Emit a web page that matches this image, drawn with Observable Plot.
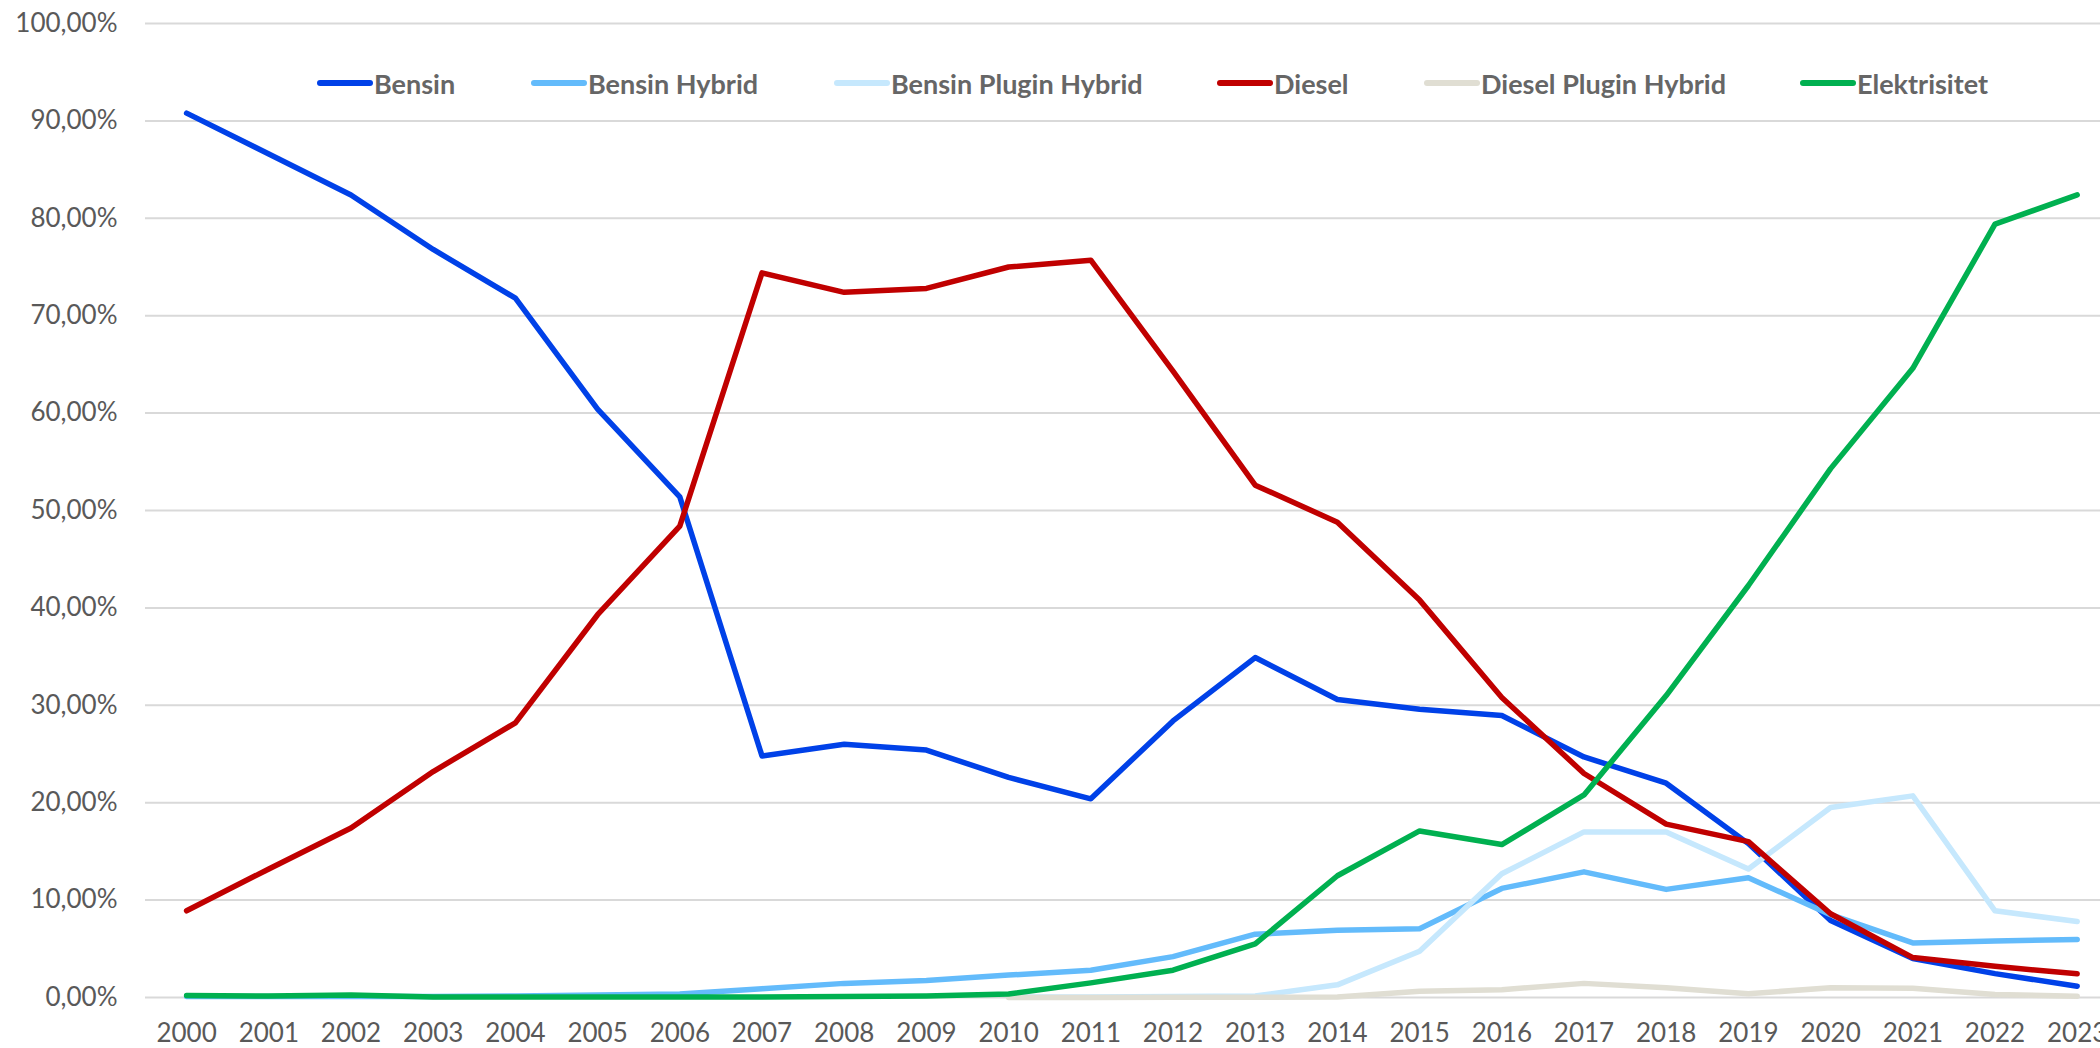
<!DOCTYPE html>
<html>
<head>
<meta charset="utf-8">
<script src="https://cdn.jsdelivr.net/npm/d3@7"></script>
<script src="https://cdn.jsdelivr.net/npm/@observablehq/plot@0.6"></script>
<style>
  html, body { margin: 0; padding: 0; background: #fff; }
  #wrap { position: relative; width: 2100px; height: 1048px; overflow: hidden; font-family: Lato, "Open Sans", sans-serif; }
  .leg { position: absolute; top: 67px; height: 32px; display: flex; align-items: center; font-weight: bold; font-size: 27px; color: #666666; white-space: nowrap; }
  .leg .sw { display: inline-block; width: 56px; height: 6px; border-radius: 3px; margin-right: 1px; }
</style>
</head>
<body>
<div id="wrap"></div>
<script>
const years = [2000, 2001, 2002, 2003, 2004, 2005, 2006, 2007, 2008, 2009, 2010, 2011, 2012, 2013, 2014, 2015, 2016, 2017, 2018, 2019, 2020, 2021, 2022, 2023];
const seriesNames = ["Bensin", "Bensin Hybrid", "Bensin Plugin Hybrid", "Diesel", "Diesel Plugin Hybrid", "Elektrisitet"];
const seriesColors = ["#0041E8", "#63BBFB", "#C6E8FD", "#C00000", "#E0DED3", "#00B050"];
const bensin = [90.8, 86.6, 82.4, 76.8, 71.8, 60.4, 51.4, 24.8, 26.0, 25.4, 22.6, 20.4, 28.4, 34.9, 30.6, 29.6, 28.95, 24.7, 22.0, 15.8, 7.9, 4.0, 2.45, 1.16];
const bensinHybrid = [0.1, 0.1, 0.1, 0.1, 0.15, 0.25, 0.35, 0.9, 1.45, 1.75, 2.3, 2.8, 4.2, 6.5, 6.9, 7.05, 11.2, 12.9, 11.1, 12.3, 8.5, 5.6, 5.8, 5.95];
const bensinPlugin = [null, null, null, null, null, null, null, null, null, null, 0.05, 0.05, 0.1, 0.15, 1.3, 4.75, 12.7, 17.0, 17.0, 13.2, 19.5, 20.7, 8.9, 7.8];
const diesel = [8.9, 13.2, 17.4, 23.2, 28.2, 39.3, 48.4, 74.4, 72.4, 72.8, 75.0, 75.7, 64.3, 52.6, 48.8, 40.8, 30.8, 23.0, 17.8, 16.0, 8.6, 4.1, 3.2, 2.43];
const dieselPlugin = [null, null, null, null, null, null, null, null, null, null, 0, 0, 0.02, 0.03, 0.05, 0.65, 0.8, 1.45, 1.0, 0.38, 1.0, 0.95, 0.3, 0.13];
const elektrisitet = [0.2, 0.15, 0.25, 0.05, 0.05, 0.05, 0.05, 0.05, 0.1, 0.15, 0.35, 1.5, 2.8, 5.5, 12.5, 17.1, 15.7, 20.8, 31.0, 42.3, 54.3, 64.6, 79.4, 82.4];
const yTicks = [0, 10, 20, 30, 40, 50, 60, 70, 80, 90, 100];

const allSeries = [bensin, bensinHybrid, bensinPlugin, diesel, dieselPlugin, elektrisitet];
const data = [];
seriesNames.forEach((name, i) => {
  years.forEach((yr, j) => {
    const v = allSeries[i][j];
    if (v !== null) data.push({series: name, year: yr, value: v});
  });
});

const fmt = v => v.toFixed(2).replace(".", ",") + "%";

const chart = Plot.plot({
  width: 2100,
  height: 1048,
  marginTop: 23,
  marginBottom: 51,
  marginLeft: 145,
  marginRight: 0,
  style: {fontFamily: "Lato, 'Open Sans', sans-serif", color: "#595959", background: "#fff", overflow: "hidden"},
  x: {domain: [1999.5, 1999.5 + 1955 / 82.2]},
  y: {domain: [0, 100]},
  color: {domain: seriesNames, range: seriesColors},
  marks: [
    Plot.ruleY(yTicks, {stroke: "#D9D9D9", strokeWidth: 2}),
    Plot.axisY({ticks: yTicks, tickFormat: fmt, tickSize: 0, tickPadding: 28, fontSize: 26, label: null}),
    Plot.axisX({ticks: years, tickFormat: d => String(d), tickSize: 0, tickPadding: 26, fontSize: 26, label: null}),
    Plot.line(data, {x: "year", y: "value", z: "series", stroke: "series", strokeWidth: 5.5, strokeLinecap: "round", strokeLinejoin: "round"})
  ]
});

const wrap = document.getElementById("wrap");
wrap.appendChild(chart);

const legendLeft = [317, 531, 834, 1217, 1424, 1800];
seriesNames.forEach((name, i) => {
  const d = document.createElement("div");
  d.className = "leg";
  d.style.left = legendLeft[i] + "px";
  const sw = document.createElement("span");
  sw.className = "sw";
  sw.style.background = seriesColors[i];
  const t = document.createElement("span");
  t.textContent = name;
  d.appendChild(sw);
  d.appendChild(t);
  wrap.appendChild(d);
});
</script>
</body>
</html>
